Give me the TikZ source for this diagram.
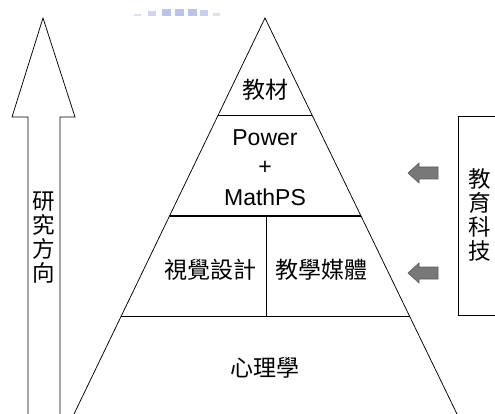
\documentclass[tikz,border=0pt]{standalone}
\usepackage{fontspec}
\setmainfont{Liberation Sans}
\newfontfamily\cjk{Noto Sans CJK TC}
\begin{document}
\begin{tikzpicture}[x=1pt,y=-1pt,
  line/.style={draw=black,line width=0.75pt},
  lbl/.style={font=\cjk\fontsize{23}{24}\selectfont,inner sep=0pt},
  lat/.style={font=\fontsize{23}{24}\selectfont,inner sep=0pt},
  vtext/.style={font=\cjk\fontsize{22.5}{24}\selectfont,inner sep=0pt,align=center},
  grayarrow/.style={fill={rgb,255:red,120;green,120;blue,120},draw={rgb,255:red,90;green,90;blue,90},line width=0.6pt},
  blob/.style={fill={rgb,255:red,185;green,195;blue,240},draw=none}]
\useasboundingbox (0,0) rectangle (495,414);
\clip (0,0) rectangle (495,414);
\fill[white] (0,0) rectangle (495,414);
% faint blurred header
\fill[blob,opacity=0.5] (134,14) rectangle (141,16);
\fill[blob,opacity=0.7] (148,11) rectangle (156,16);
\fill[blob] (162,9) rectangle (171,16);
\fill[blob] (175,9) rectangle (184,16);
\fill[blob] (188,9) rectangle (197,16);
\fill[blob,opacity=0.8] (200,10) rectangle (208,16);
\fill[blob,opacity=0.5] (213,13) rectangle (220,16);
% left arrow
\draw[line] (28,420) -- (28,117) -- (12,117) -- (43,18) -- (75,117) -- (60,117) -- (60,420);
\node[vtext] (dir) at (44,238) {研\\究\\方\\向};
% pyramid
\coordinate (apex) at (265,18);
\coordinate (bl) at (74,414);
\coordinate (br) at (457,414);
\draw[line] (bl) -- (apex) -- (br);
\draw[line] (218.2,115) -- (312,115);
\draw[draw=black,line width=1.5pt] (169.5,216) -- (361,216);
\draw[line] (121.3,316) -- (409.5,316);
\draw[line] (266,216) -- (266,316);
\node[lbl] (jc) at (265,90) {教材};
\node[lat] (pw) at (265,138) {Power};
\node[lat] (pl) at (265,168) {+};
\node[lat] (mp) at (265,197) {MathPS};
\node[lbl] (sj) at (210,270) {視覺設計};
\node[lbl] (jx) at (321,270) {教學媒體};
\node[lbl] (xl) at (265,368) {心理學};
% right box
\draw[line] (500,116) -- (458,116) -- (458,315) -- (500,315);
\node[vtext] (edu) at (480,215) {教\\育\\科\\技};
% gray arrows
\foreach \yy/\nm in {173/a1,273/a2}{
  \draw[grayarrow] (408,\yy) -- (419,\yy-10) -- (419,\yy-6) -- (438,\yy-6) -- (438,\yy+6) -- (419,\yy+6) -- (419,\yy+10) -- cycle;
}
\end{tikzpicture}
\end{document}
